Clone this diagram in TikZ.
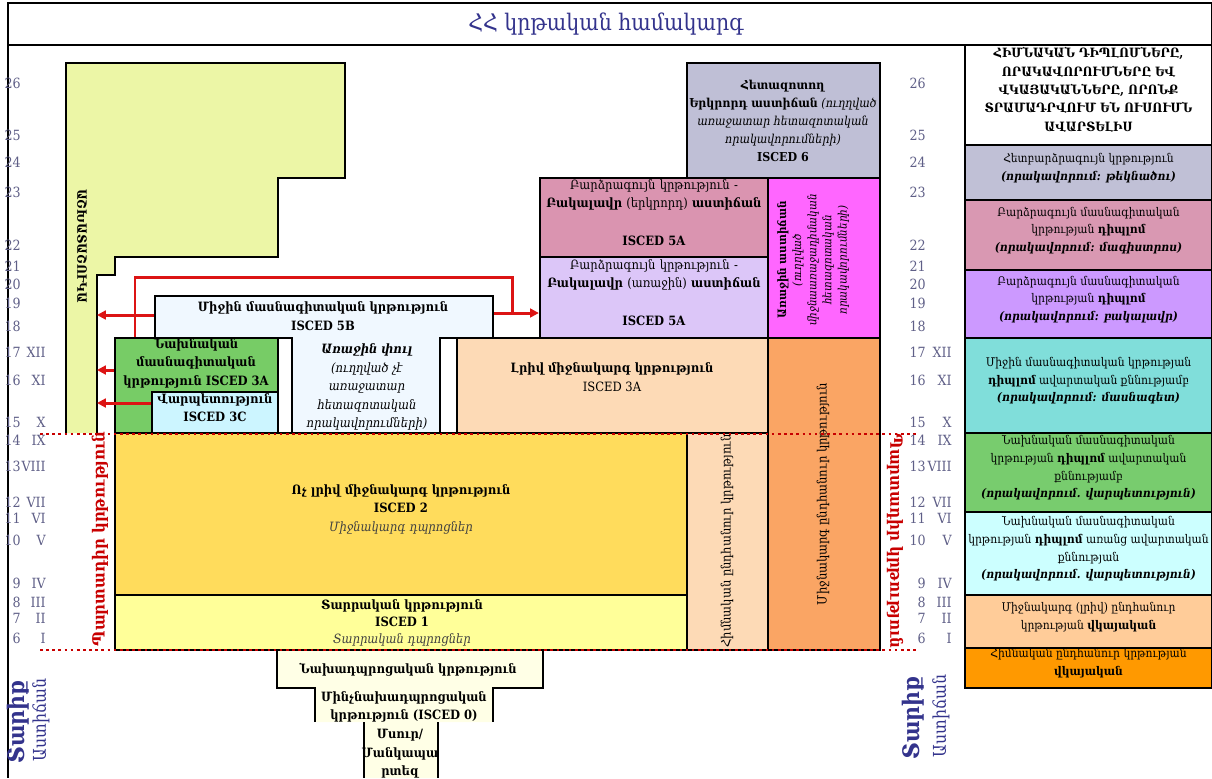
\documentclass[tikz,border=0pt]{standalone}
\usepackage{fontspec}
\setmainfont{DejaVu Serif Condensed}
\usetikzlibrary{arrows.meta, fit, positioning}

\definecolor{titleblue}{RGB}{51,51,140}
\definecolor{scalegrey}{RGB}{95,95,135}
\definecolor{lmgreen}{RGB}{236,246,166}
\definecolor{c6grey}{RGB}{191,191,214}
\definecolor{c5pink}{RGB}{218,148,176}
\definecolor{c5lav}{RGB}{220,198,248}
\definecolor{cmag}{RGB}{255,102,255}
\definecolor{c5bblue}{RGB}{240,248,255}
\definecolor{c3green}{RGB}{119,204,102}
\definecolor{c3ccyan}{RGB}{204,245,255}
\definecolor{c3peach}{RGB}{253,218,182}
\definecolor{corange}{RGB}{250,165,100}
\definecolor{c2yellow}{RGB}{255,220,92}
\definecolor{c1yellow}{RGB}{255,255,153}
\definecolor{c0cream}{RGB}{255,255,230}
\definecolor{rgrey}{RGB}{192,192,214}
\definecolor{rpink}{RGB}{217,152,178}
\definecolor{rpurple}{RGB}{204,153,255}
\definecolor{rteal}{RGB}{128,222,218}
\definecolor{rgreen}{RGB}{120,204,110}
\definecolor{rcyan}{RGB}{204,255,255}
\definecolor{rpeach}{RGB}{255,204,153}
\definecolor{rorange}{RGB}{255,153,0}
\definecolor{arrred}{RGB}{220,20,20}
\definecolor{dotred}{RGB}{200,0,0}

\begin{document}
\begin{tikzpicture}[x=0.02cm, y=-0.02cm,
    blk/.style={draw, line width=1.3pt, inner sep=0pt},
    txt/.style={align=center, inner sep=0pt, font=\fontsize{7.3}{10.5}\selectfont},
    bx/.style={txt, font=\bfseries\fontsize{7.3}{10.5}\selectfont},
    panel/.style={draw, line width=0.9pt, inner sep=0pt, align=center, font=\fontsize{6.8}{10}\selectfont},
    agenum/.style={inner sep=0pt, text=scalegrey, font=\fontsize{8}{9}\selectfont},
    redline/.style={draw=arrred, line width=1.7pt},
    redarr/.style={redline, -{Triangle[length=5pt, width=5pt]}},
    dotline/.style={draw=dotred, line width=1.5pt, dotted},
    duty/.style={text=dotred, inner sep=0pt, font=\bfseries\fontsize{9.5}{11}\selectfont},
    agetitle/.style={text=titleblue, inner sep=0pt, rotate=90}
  ]
  \useasboundingbox (0,0) rectangle (1212,778);

  % Title
  \draw[line width=1.3pt] (8,3) rectangle (1212,45);
  \draw[line width=1.3pt] (8,45) -- (8,778);
  \node[text=titleblue, font=\fontsize{13}{15}\selectfont] (title) at (606,24) {ՀՀ կրթական համակարգ};

  % Labour market
  \draw[blk, fill=lmgreen] (66,433) -- (66,63) -- (345,63) -- (345,178) -- (278,178) -- (278,257)
    -- (115,257) -- (115,275) -- (97,275) -- (97,433);
  \coordinate (lm) at (97,433);
  \node[bx, rotate=-90] (labour) at (82,246) {ԱՇԽԱՏԱՇՈՒԿԱ};

  % Higher education
  \node[blk, fill=c6grey, fit={(687,63)(880,178)}] (isced6) {};
  \node[txt, font=\fontsize{7}{10.3}\selectfont] (isced6txt) at (783,121) {\textbf{Հետազոտող}\\\textbf{Երկրորդ աստիճան} \textit{(ուղղված}\\\textit{առաջատար հետազոտական}\\\textit{որակավորումների)}\\\textbf{ISCED 6}};
  \node[blk, fill=c5pink, fit={(540,178)(768,257)}, txt] (isced5a2) {Բարձրագույն կրթություն -\\\textbf{Բակալավր} (երկրորդ) \textbf{աստիճան}\\[11pt]\textbf{ISCED 5A}};
  \node[blk, fill=c5lav, fit={(540,257)(768,338)}, txt] (isced5a1) {Բարձրագույն կրթություն -\\\textbf{Բակալավր} (առաջին) \textbf{աստիճան}\\[11pt]\textbf{ISCED 5A}};
  \node[blk, fill=cmag, fit={(768,178)(880,338)}] (firstdeg) {};
  \node[txt, rotate=90, font=\fontsize{6.6}{8.6}\selectfont] (firstdegtxt) at (813,260) {\textbf{Առաջին աստիճան}\\\textit{(ուղղված}\\\textit{միջնաառաջադիմական}\\\textit{հետազոտական}\\\textit{որակավորումների)}};
  \node[blk, fill=c5bblue, fit={(155,296)(493,433)}] (isced5b) {};
  \node[bx] (isced5btxt) at (323,316) {Միջին մասնագիտական կրթություն\\ISCED 5B};

  % Upper secondary
  \node[blk, fill=c3green, fit={(115,338)(278,433)}] (isced3a) {};
  \node[bx] (isced3atxt) at (196,363) {Նախնական\\մասնագիտական\\կրթություն ISCED 3A};
  \node[blk, fill=c3ccyan, fit={(152,392)(278,433)}, bx] (isced3c) {Վարպետություն\\ISCED 3C};
  \node[blk, fill=white, fit={(278,338)(292,433)}] (gapa) {};
  \node[blk, fill=white, fit={(440,338)(457,433)}] (gapb) {};
  \node[txt] (firstphase) at (367,387) {\textbf{\textit{Առաջին փուլ}}\\\textit{(ուղղված չէ}\\\textit{առաջատար}\\\textit{հետազոտական}\\\textit{որակավորումների)}};
  \node[blk, fill=c3peach, fit={(457,338)(768,433)}] (full3a) {};
  \node[txt] (full3atxt) at (612,377) {\textbf{Լրիվ միջնակարգ կրթություն}\\ISCED 3A};
  \node[blk, fill=corange, fit={(768,338)(880,650)}] (secgen) {};
  \node[txt, rotate=90] (secgentxt) at (823,494) {Միջնակարգ ընդհանուր կրթություն};
  \node[blk, fill=c3peach, fit={(687,433)(768,650)}] (basicgen) {};
  \node[txt, rotate=90] (basicgentxt) at (727,541) {Հիմնական ընդհանուր կրթություն};

  % Compulsory
  \node[blk, fill=c2yellow, fit={(115,433)(687,595)}, txt] (isced2) {\textbf{Ոչ լրիվ միջնակարգ կրթություն}\\\textbf{ISCED 2}\\\textcolor{black!75}{\textit{Միջնակարգ դպրոցներ}}};
  \node[blk, fill=c1yellow, fit={(115,595)(687,650)}] (isced1) {};
  \node[txt, font=\fontsize{7.3}{9.6}\selectfont] (isced1txt) at (402,623) {\textbf{Տարրական կրթություն}\\\textbf{ISCED 1}\\\textcolor{black!75}{\textit{Տարրական դպրոցներ}}};

  % Preschool
  \fill[c0cream] (277,650) -- (543,650) -- (543,688) -- (493,688) -- (493,722) -- (438,722) -- (438,778)
    -- (364,778) -- (364,722) -- (315,722) -- (315,688) -- (277,688) -- cycle;
  \draw[blk] (315,722) -- (315,688) -- (277,688) -- (277,650) -- (543,650) -- (543,688) -- (493,688) -- (493,722);
  \draw[blk] (364,722) -- (364,778);
  \draw[blk] (438,722) -- (438,778);
  \node[bx] (preschool) at (408,670) {Նախադպրոցական կրթություն};
  \node[bx] (preprimary) at (404,707) {Մինչնախադպրոցական\\կրթություն (ISCED 0)};
  \node[bx] (nursery) at (400,754) {Մսուր/\\Մանկապա\\րտեզ};

  % Red connections
  \draw[redline] (isced3a.north -| 135,0) -- (135,277) -- (512,277) -- (512,313);
  \draw[redarr] (isced5b.east |- 0,313) -- (isced5a1.west |- 0,313);
  \draw[redarr] (isced5b.west |- 0,315) -- (lm |- 0,315);
  \draw[redarr] (isced3a.west |- 0,370) -- (lm |- 0,370);
  \draw[redarr] (isced3c.west |- 0,403) -- (lm |- 0,403);

  % Compulsory limits
  \draw[dotline] (40,434) -- (918,434);
  \draw[dotline] (40,650) -- (918,650);
  \node[duty, rotate=90] (dutyl) at (100,539) {Պարտադիր կրթություն};
  \node[duty, rotate=-90] (dutyr) at (895,541) {Պարտադիր կրթություն};

  % Age and grade scales
  \foreach \yy/\age/\rom in {83/26/, 135/25/, 162/24/, 192/23/, 245/22/, 266/21/, 284/20/, 303/19/, 326/18/,
      352/17/XII, 380/16/XI, 422/15/X, 440/14/IX, 466/13/VIII, 502/12/VII, 518/11/VI, 540/10/V,
      583/9/IV, 602/8/III, 618/7/II, 638/6/I} {
    \node[agenum, anchor=east] (agel\age) at (21,\yy) {\age};
    \node[agenum, anchor=east] (roml\age) at (46,\yy) {\rom};
    \node[agenum, anchor=east] (ager\age) at (926,\yy) {\age};
    \node[agenum, anchor=east] (romr\age) at (952,\yy) {\rom};
  }
  \node[agetitle, font=\bfseries\fontsize{13}{15}\selectfont] (agel) at (18,722) {Տարիք};
  \node[agetitle, font=\fontsize{10}{12}\selectfont] (gradel) at (41,720) {Աստիճան};
  \node[agetitle, font=\bfseries\fontsize{13}{15}\selectfont] (ager) at (913,718) {Տարիք};
  \node[agetitle, font=\fontsize{10}{12}\selectfont] (grader) at (941,716) {Աստիճան};

  % Diplomas panel
  \node[panel, fit={(965,45)(1212,145)}, font=\bfseries\fontsize{7.3}{10.5}\selectfont] (rp0) {ՀԻՄՆԱԿԱՆ ԴԻՊԼՈՄՆԵՐԸ,\\ՈՐԱԿԱՎՈՐՈՒՄՆԵՐԸ ԵՎ\\ՎԿԱՅԱԿԱՆՆԵՐԸ, ՈՐՈՆՔ\\ՏՐԱՄԱԴՐՎՈՒՄ ԵՆ ՈՒՍՈՒՄՆ\\ԱՎԱՐՏԵԼԻՍ};
  \node[panel, fill=rgrey, fit={(965,145)(1212,200)}] (rp1) {Հետբարձրագույն կրթություն\\\textbf{\textit{(որակավորում: թեկնածու)}}};
  \node[panel, fill=rpink, fit={(965,200)(1212,270)}] (rp2) {Բարձրագույն մասնագիտական\\կրթության \textbf{դիպլոմ}\\\textbf{\textit{(որակավորում: մագիստրոս)}}};
  \node[panel, fill=rpurple, fit={(965,270)(1212,338)}] (rp3) {Բարձրագույն մասնագիտական\\կրթության \textbf{դիպլոմ}\\\textbf{\textit{(որակավորում: բակալավր)}}};
  \node[panel, fill=rteal, fit={(965,338)(1212,433)}] (rp4) {Միջին մասնագիտական կրթության\\\textbf{դիպլոմ} ավարտական քննությամբ\\\textbf{\textit{(որակավորում: մասնագետ)}}};
  \node[panel, fill=rgreen, fit={(965,433)(1212,512)}] (rp5) {Նախնական մասնագիտական\\կրթության \textbf{դիպլոմ} ավարտական\\քննությամբ\\\textbf{\textit{(որակավորում. վարպետություն)}}};
  \node[panel, fill=rcyan, fit={(965,512)(1212,595)}] (rp6) {Նախնական մասնագիտական\\կրթության \textbf{դիպլոմ} առանց ավարտական\\քննության\\\textbf{\textit{(որակավորում. վարպետություն)}}};
  \node[panel, fill=rpeach, fit={(965,595)(1212,648)}] (rp7) {Միջնակարգ (լրիվ) ընդհանուր\\կրթության \textbf{վկայական}};
  \node[panel, fill=rorange, fit={(965,648)(1212,688)}] (rp8) {Հիմնական ընդհանուր կրթության\\\textbf{վկայական}};
\end{tikzpicture}
\end{document}
